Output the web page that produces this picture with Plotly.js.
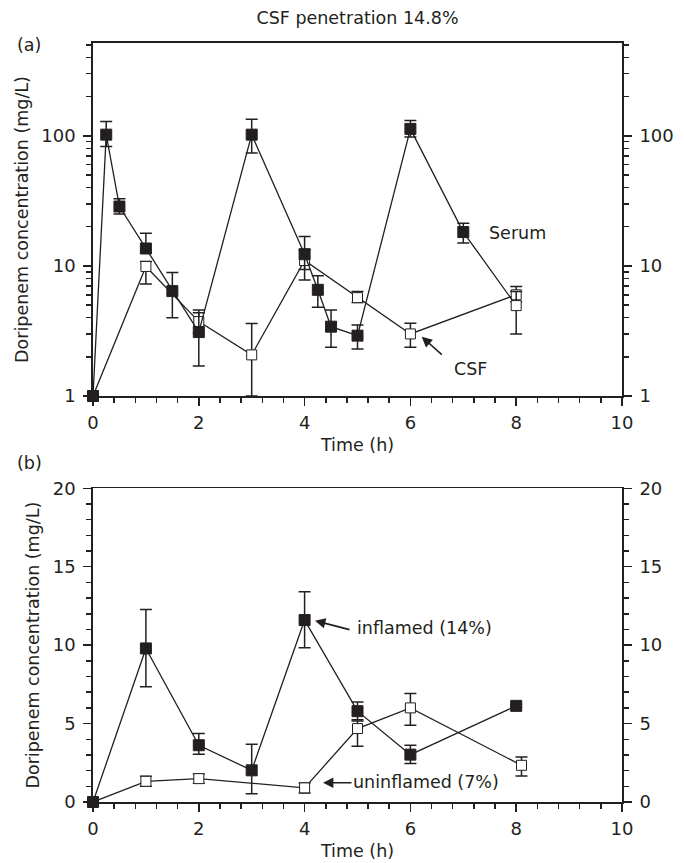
<!DOCTYPE html>
<html>
<head>
<meta charset="utf-8">
<script src="https://cdn.plot.ly/plotly-3.0.1.min.js"></script>
<style>html,body{margin:0;padding:0;background:#fff;}</style>
</head>
<body>
<div id="chart" style="width:684px;height:863px;"></div>
<script>
// ---- Panel (a): serum and CSF (log scale) ----
var serumTime = [0, 0.25, 0.5, 1, 1.5, 2, 3, 4, 4.25, 4.5, 5, 6, 7, 8];
var serumConc = [1, 102, 28.6, 13.6, 6.4, 3.1, 102, 12.3, 6.55, 3.41, 2.91, 113, 18.2, 4.95];
var serumErrPlus = [0, 27, 4.2, 4.2, 2.5, 1.48, 32, 4.5, 1.85, 1.18, 0.61, 18, 3.1, 1.4];
var serumErrMinus = [0, 19.3, 3.6, 1.1, 2.4, 1.4, 28.4, 2.9, 1.74, 1.04, 0.61, 15.2, 3.2, 1.95];

var csfTime = [0, 1, 2, 3, 4, 5, 6, 8];
var csfConc = [1, 9.9, 3.73, 2.07, 11.0, 5.7, 3.0, 6.0];
var csfErrPlus = [0, 0.9, 0.64, 1.53, 2.3, 0.65, 0.63, 0.93];
var csfErrMinus = [0, 2.63, 0.7, 1.07, 3.2, 0.48, 0.63, 0.7];

// ---- Panel (b): inflamed vs uninflamed (linear) ----
var inflTime = [0, 1, 2, 3, 4, 5, 6, 8];
var inflConc = [0, 9.79, 3.62, 2.02, 11.6, 5.79, 3.02, 6.13];
var inflErrPlus = [0, 2.49, 0.74, 1.66, 1.8, 0.59, 0.6, 0.1];
var inflErrMinus = [0, 2.45, 0.58, 1.49, 1.77, 0.55, 0.57, 0.1];

var uninflTime = [0, 1, 2, 4, 5, 6, 8.1];
var uninflConc = [0, 1.32, 1.49, 0.9, 4.68, 6.0, 2.34];
var uninflErrPlus = [0, 0.32, 0.3, 0.31, 0.49, 0.92, 0.53];
var uninflErrMinus = [0, 0.32, 0.3, 0.33, 1.13, 1.1, 0.68];

var logTickVals = [1, 10, 100];
var logTickText = ['1', '10', '100'];
var logMinorVals = [2,3,4,5,6,7,8,9,20,30,40,50,60,70,80,90,200,300,400,500];

// ---- styling ----
var FONT = 'DejaVu Sans, sans-serif';
var BLACK = '#231f20';
function errStyle(plus, minus) {
  return {type: 'data', symmetric: false, array: plus, arrayminus: minus,
          color: BLACK, thickness: 1.5, width: 6};
}
var filledMarker = {symbol: 'square', size: 11, color: BLACK, opacity: 1, line: {color: BLACK, width: 1}};
var openMarker = {symbol: 'square', size: 10, color: '#ffffff', opacity: 1, line: {color: BLACK, width: 1}};

// serum marker: last point drawn open (white) as in the figure
var serumColors = serumTime.map(function (t, i) { return i === serumTime.length - 1 ? '#ffffff' : BLACK; });
var serumSizes = serumTime.map(function (t, i) { return i === serumTime.length - 1 ? 10 : 11; });

var traces = [
  {x: csfTime, y: csfConc, xaxis: 'x', yaxis: 'y', mode: 'lines+markers', name: 'CSF',
   line: {color: BLACK, width: 1.3}, marker: openMarker, error_y: errStyle(csfErrPlus, csfErrMinus),
   cliponaxis: false, showlegend: false, hoverinfo: 'x+y'},
  {x: serumTime, y: serumConc, xaxis: 'x', yaxis: 'y', mode: 'lines+markers', name: 'Serum',
   line: {color: BLACK, width: 1.3},
   marker: {symbol: 'square', size: serumSizes, color: serumColors, opacity: 1, line: {color: BLACK, width: 1}},
   error_y: errStyle(serumErrPlus, serumErrMinus),
   cliponaxis: false, showlegend: false, hoverinfo: 'x+y'},
  {x: uninflTime, y: uninflConc, xaxis: 'x2', yaxis: 'y2', mode: 'lines+markers', name: 'uninflamed',
   line: {color: BLACK, width: 1.3}, marker: openMarker, error_y: errStyle(uninflErrPlus, uninflErrMinus),
   cliponaxis: false, showlegend: false, hoverinfo: 'x+y'},
  {x: inflTime, y: inflConc, xaxis: 'x2', yaxis: 'y2', mode: 'lines+markers', name: 'inflamed',
   line: {color: BLACK, width: 1.3}, marker: filledMarker, error_y: errStyle(inflErrPlus, inflErrMinus),
   cliponaxis: false, showlegend: false, hoverinfo: 'x+y'},
  // carriers for right-hand mirrored axes
  {x: [null], y: [null], xaxis: 'x', yaxis: 'y3', mode: 'markers', showlegend: false, hoverinfo: 'skip'},
  {x: [null], y: [null], xaxis: 'x2', yaxis: 'y4', mode: 'markers', showlegend: false, hoverinfo: 'skip'}
];

// pixel -> paper helpers (plot area: x 93..622, y 43..802)
var L = 93, R = 62, T = 43, B = 61, W = 684, H = 863;
function px(xp) { return (xp - L) / (W - L - R); }
function py(yp) { return (H - B - yp) / (H - T - B); }

var domA = [py(396), 1];
var domB = [0, py(488.3)];

var tickFont = {family: FONT, size: 18, color: BLACK};
var textFont = {family: FONT, size: 17.5, color: BLACK};
function xAxis(anchor) {
  return {anchor: anchor, domain: [0, 1], range: [0, 10], tickmode: 'linear', tick0: 0, dtick: 2,
    ticks: 'outside', ticklen: 8, tickwidth: 1.5, tickcolor: BLACK, ticklabelstandoff: 2,
    minor: {tickmode: 'linear', tick0: 0, dtick: 0.4, ticks: 'outside', ticklen: 5, tickwidth: 1.5, tickcolor: BLACK},
    showline: true, linecolor: BLACK, linewidth: 1.8, mirror: true, showgrid: false, zeroline: false,
    tickfont: tickFont, title: {text: 'Time (h)', font: textFont, standoff: 6}};
}
var logY = {type: 'log', range: [0, 2.713], tickmode: 'array', tickvals: logTickVals, ticktext: logTickText,
  ticks: 'outside', ticklen: 8, tickwidth: 1.5, tickcolor: BLACK, ticklabelstandoff: 4,
  minor: {tickmode: 'array', tickvals: logMinorVals, ticks: 'outside', ticklen: 5, tickwidth: 1.5, tickcolor: BLACK},
  showline: true, linecolor: BLACK, linewidth: 1.8, showgrid: false, zeroline: false, tickfont: tickFont};
var linY = {range: [0, 20], tickmode: 'linear', tick0: 0, dtick: 5,
  ticks: 'outside', ticklen: 8, tickwidth: 1.5, tickcolor: BLACK, ticklabelstandoff: 4,
  minor: {tickmode: 'linear', tick0: 0, dtick: 1, ticks: 'outside', ticklen: 5, tickwidth: 1.5, tickcolor: BLACK},
  showline: true, linecolor: BLACK, linewidth: 1.8, showgrid: false, zeroline: false, tickfont: tickFont};

function clone(o) { return JSON.parse(JSON.stringify(o)); }
var yA = clone(logY); yA.domain = domA; yA.anchor = 'x'; yA.side = 'left';
yA.title = {text: 'Doripenem concentration (mg/L)', font: textFont, standoff: 8};
var yA2 = clone(logY); yA2.domain = domA; yA2.anchor = 'x'; yA2.side = 'right'; yA2.overlaying = 'y';
var yB = clone(linY); yB.domain = domB; yB.anchor = 'x2'; yB.side = 'left';
yB.title = {text: 'Doripenem concentration (mg/L)', font: textFont, standoff: 8};
var yB2 = clone(linY); yB2.domain = domB; yB2.anchor = 'x2'; yB2.side = 'right'; yB2.overlaying = 'y2';

var xa = xAxis('y');
var xb = xAxis('y2');

var annotations = [
  {xref: 'paper', yref: 'paper', x: px(29), y: py(45), text: '(a)', showarrow: false, font: textFont, xanchor: 'center', yanchor: 'middle'},
  {xref: 'paper', yref: 'paper', x: px(29), y: py(463), text: '(b)', showarrow: false, font: textFont, xanchor: 'center', yanchor: 'middle'},
  {xref: 'paper', yref: 'paper', x: px(487), y: py(233), text: 'Serum', showarrow: false, font: textFont, xanchor: 'left', yanchor: 'middle'},
  {xref: 'paper', yref: 'paper', x: px(421.7), y: py(336.7), text: '', showarrow: true,
   ax: px(443.3), ay: py(356), axref: 'paper', ayref: 'paper',
   arrowhead: 2, arrowsize: 1.3, arrowwidth: 1.6, arrowcolor: BLACK},
  {xref: 'paper', yref: 'paper', x: px(470), y: py(369), text: 'CSF', showarrow: false, font: textFont, xanchor: 'center', yanchor: 'middle'},
  {xref: 'paper', yref: 'paper', x: px(315), y: py(620.7), text: '', showarrow: true,
   ax: px(351), ay: py(630), axref: 'paper', ayref: 'paper',
   arrowhead: 2, arrowsize: 1.3, arrowwidth: 1.6, arrowcolor: BLACK},
  {xref: 'paper', yref: 'paper', x: px(355), y: py(628), text: 'inflamed (14%)', showarrow: false, font: textFont, xanchor: 'left', yanchor: 'middle'},
  {xref: 'paper', yref: 'paper', x: px(323), y: py(782.7), text: '', showarrow: true,
   ax: px(353), ay: py(782.7), axref: 'paper', ayref: 'paper',
   arrowhead: 2, arrowsize: 1.3, arrowwidth: 1.6, arrowcolor: BLACK},
  {xref: 'paper', yref: 'paper', x: px(351), y: py(782), text: 'uninflamed (7%)', showarrow: false, font: textFont, xanchor: 'left', yanchor: 'middle'}
];

var layout = {
  width: W, height: H,
  margin: {l: L, r: R, t: T, b: B},
  paper_bgcolor: '#ffffff', plot_bgcolor: '#ffffff',
  font: {family: FONT, size: 18, color: BLACK},
  title: {text: 'CSF penetration 14.8%', font: textFont,
          xref: 'paper', x: 0.5, xanchor: 'center', yref: 'container', y: 1 - 18 / H, yanchor: 'middle'},
  xaxis: xa, xaxis2: xb,
  yaxis: yA, yaxis2: yB, yaxis3: yA2, yaxis4: yB2,
  annotations: annotations,
  showlegend: false
};

Plotly.newPlot('chart', traces, layout, {staticPlot: true, displayModeBar: false});
</script>
</body>
</html>
